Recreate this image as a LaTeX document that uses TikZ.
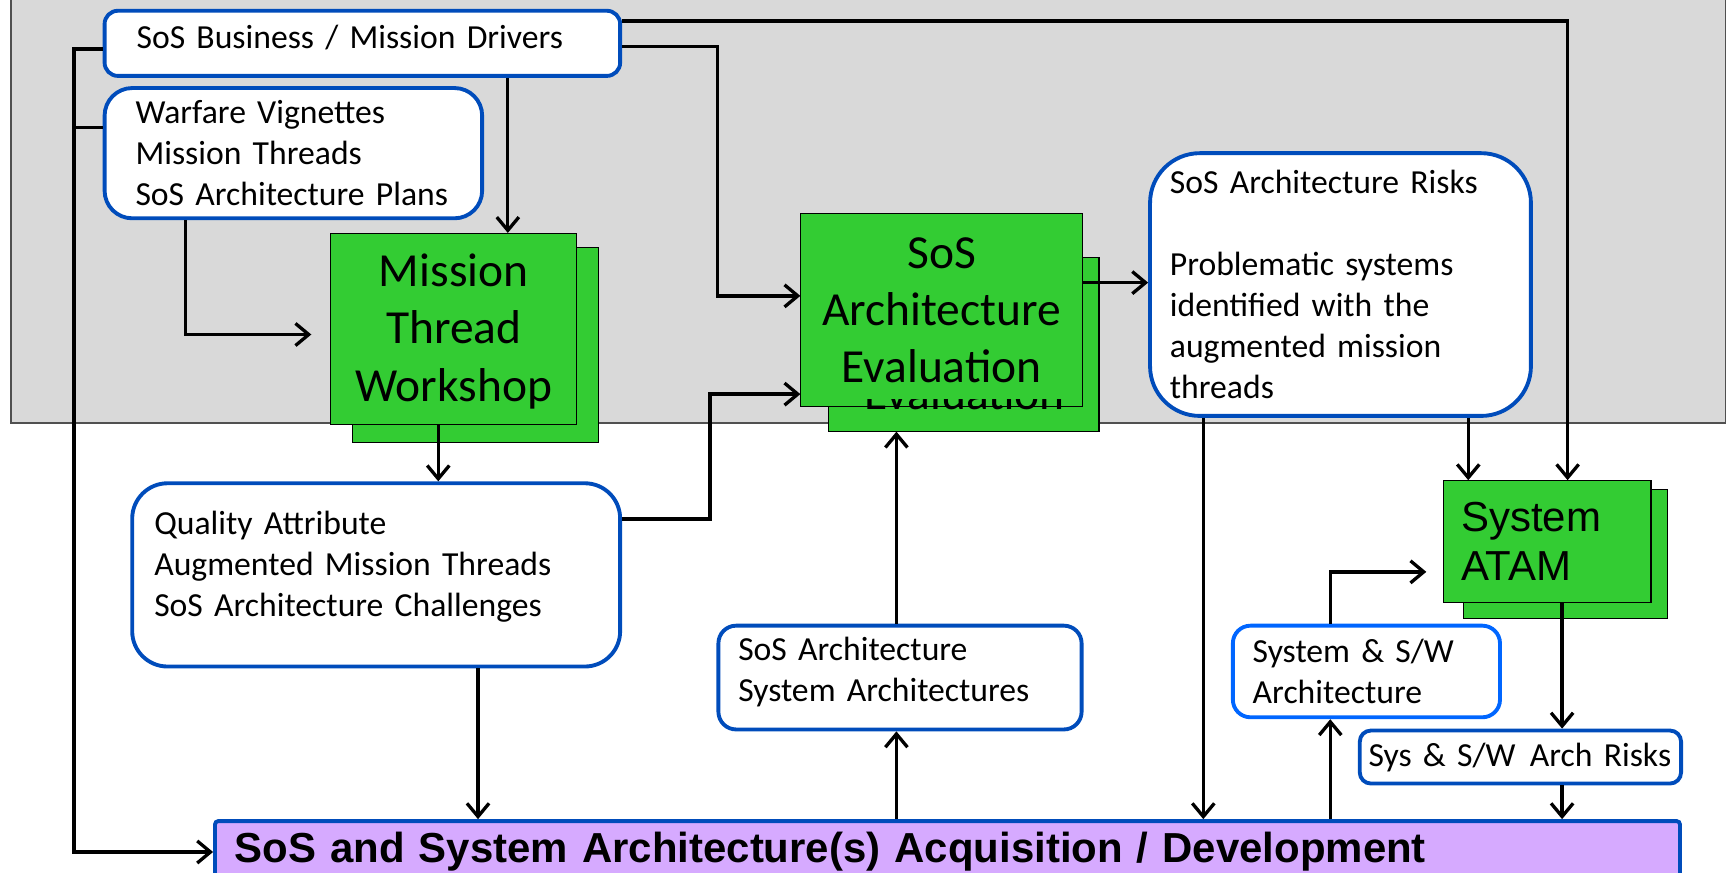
\documentclass[tikz,border=0pt]{standalone}
\usepackage{fontspec}
\setmainfont{Carlito}
\newfontfamily\arialf{Liberation Sans}
\usetikzlibrary{arrows.meta,calc}
\definecolor{bggray}{HTML}{D9D9D9}
\definecolor{bgedge}{HTML}{505050}
\definecolor{boxblue}{HTML}{004CBB}
\definecolor{lightblue}{HTML}{0066FF}
\definecolor{mgreen}{HTML}{33CC33}
\definecolor{mpurple}{HTML}{D6AAFF}
\newcommand\mybody{\fontsize{30.5}{37}\selectfont}
\newcommand\mybig{\fontsize{43}{52}\selectfont}
\newcommand\myatam{\arialf\fontsize{38}{45}\selectfont}
\newcommand\mybar{\arialf\bfseries\fontsize{38}{46}\selectfont}
\newcommand\oneln[1]{\mbox{#1}}
\tikzset{
  wbox/.style={draw=boxblue, line width=3.5pt, fill=white, rounded corners=#1,
    anchor=north west, align=left, inner ysep=0pt, font=\mybody},
  gbox/.style={draw=black, line width=1pt, fill=mgreen, anchor=north west, inner sep=0pt},
  conn/.style={line width=3pt, -{Straight Barb[length=12pt,width=20pt]}},
  plain/.style={line width=3pt}
}
\begin{document}
\begin{tikzpicture}[x=1pt,y=-1pt]
\useasboundingbox (0,0) rectangle (1568,790);
% background panel
\fill[bggray] (10,-5) rectangle (1563,383);
\draw[bgedge, line width=1.5pt] (10,-5) -- (10,383) -- (1563,383) -- (1563,-5);

% white boxes
\node[wbox=12pt, minimum width=467pt, minimum height=59pt, text width=409pt, inner xsep=29pt] (biz) at (93,8) {\oneln{SoS Business / Mission Drivers}\\[-25pt]\mbox{}};
\node[wbox=25pt, minimum width=342pt, minimum height=118pt, text width=286pt, inner xsep=28pt] (war) at (93,78) {\oneln{Warfare Vignettes}\\\oneln{Mission Threads}\\\oneln{SoS Architecture Plans}};
\node[wbox=32pt, minimum width=442pt, minimum height=166pt, text width=402pt, inner xsep=20pt] (qual) at (118,436) {\oneln{Quality Attribute}\\\oneln{Augmented Mission Threads}\\\oneln{SoS Architecture Challenges}\\[-16.5pt]\mbox{}};
\node[wbox=45pt, minimum width=345pt, minimum height=238pt, text width=309pt, inner xsep=18pt] (risk) at (1040,137) {\oneln{SoS Architecture Risks}\\[37pt]\oneln{Problematic systems}\\\oneln{identified with the}\\\oneln{augmented mission}\\\oneln{threads}};
\node[wbox=16pt, minimum width=329pt, minimum height=94pt, text width=293pt, inner xsep=18pt] (sosa) at (649,565) {\oneln{SoS Architecture}\\\oneln{System Architectures}\\[-22.5pt]\mbox{}};
\node[wbox=16pt, draw=lightblue, minimum width=242pt, minimum height=83pt, text width=206pt, inner xsep=18pt] (sysw) at (1115,565) {\oneln{System \& S/W}\\\oneln{Architecture}};
\node[wbox=10pt, minimum width=291pt, minimum height=48pt, text width=275pt, inner xsep=8pt] (sysr) at (1230,660) {\oneln{Sys \& S/W\hspace{13pt}Arch Risks}};

% green boxes
\node[gbox, minimum width=223pt, minimum height=176pt] (mtws) at (319,224) {};
\node[gbox, minimum width=223pt, minimum height=173pt, align=center, font=\mybig] (mtw) at (299,211) {\mbox{}\\[-18pt]Mission\\Thread\\Workshop};

\node[gbox, minimum width=245pt, minimum height=157pt] (evals) at (750,233) {};
\node[gbox, minimum width=255pt, minimum height=175pt, align=center, font=\mybig] (eval) at (725,193) {SoS\\Architecture\\Evaluation};
\begin{scope}
  \clip (740,362) rectangle (1000,392);
  \node[font=\mybig, anchor=base, inner sep=0pt] (evalst) at (874,371) {Evaluation};
\end{scope}

\node[gbox, minimum width=185pt, minimum height=117pt] (atams) at (1325,443) {};
\node[gbox, minimum width=188pt, minimum height=110pt, align=left, text width=156pt, inner xsep=16pt, font=\myatam] (atam) at (1307,435) {System\\ATAM};

% bottom bar
\node[draw=boxblue, line width=3.5pt, fill=mpurple, rounded corners=3pt, anchor=north west,
  minimum width=1327pt, minimum height=56pt, text width=1291pt, inner xsep=18pt, inner ysep=0pt,
  align=left, font=\mybar] (bar) at (193,742) {SoS and System Architecture(s) Acquisition / Development};

% helper coordinates
\coordinate (cA) at (1420,0);
\coordinate (kB) at (650,268);
\coordinate (c460) at (460,0);
\coordinate (k4) at (168,303);
\coordinate (t4) at (282,303);
\coordinate (bus) at (67,0);
\coordinate (c397) at (397,0);
\coordinate (y470) at (0,470);
\coordinate (k7) at (643,357);
\coordinate (c433) at (433,0);
\coordinate (c812) at (812,0);
\coordinate (y256) at (0,256);
\coordinate (c1090) at (1090,0);
\coordinate (c1330) at (1330,0);
\coordinate (c1205) at (1205,0);
\coordinate (t15) at (1292,518);
\coordinate (c1415) at (1415,0);

% connectors
\draw[conn] ([yshift=-11pt]biz.north east) -| (atam.north -| cA);
\draw[conn] ([yshift=-34pt]biz.north east) -| (kB) -- (eval.west |- kB);
\draw[conn] (biz.south -| c460) -- (mtw.north -| c460);
\draw[conn] (war.south -| k4) |- (t4);
\draw[conn] ([yshift=-5pt]biz.west) -| (bar.west -| bus) -- (bar.west);
\draw[plain] ([yshift=23pt]war.west) -- ([yshift=23pt]war.west -| bus);
\draw[conn] (mtw.south -| c397) -- (qual.north -| c397);
\draw[conn] (qual.east |- y470) -| (k7) -- (eval.west |- k7);
\draw[conn] (qual.south -| c433) -- (bar.north -| c433);
\draw[conn] (bar.north -| c812) -- (sosa.south -| c812);
\draw[conn] (sosa.north -| c812) -- (evals.south -| c812);
\draw[conn] (eval.east |- y256) -- (risk.west |- y256);
\draw[conn] (risk.south -| c1090) -- (bar.north -| c1090);
\draw[conn] (risk.south -| c1330) -- (atam.north -| c1330);
\draw[conn] (bar.north -| c1205) -- (sysw.south -| c1205);
\draw[conn] (sysw.north -| c1205) |- (t15);
\draw[conn] (atam.south -| c1415) -- (sysr.north -| c1415);
\draw[conn] (sysr.south -| c1415) -- (bar.north -| c1415);
\end{tikzpicture}
\end{document}
